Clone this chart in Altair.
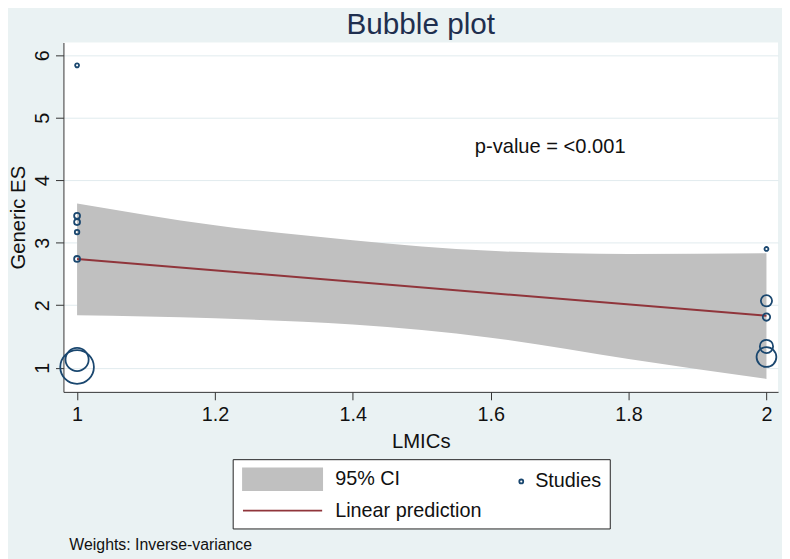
import altair as alt
import pandas as pd

# ---------------- data ----------------
# individual studies (x = LMICs group, y = generic effect size, weight = inverse-variance weight, relative)
study_x = [1, 1, 1, 1, 1, 1, 1, 2, 2, 2, 2, 2]
study_es = [5.84, 3.43, 3.33, 3.17, 2.74, 1.13, 1.01, 2.90, 2.07, 1.81, 1.34, 1.17]
study_weight = [4, 9, 9, 5.3, 9, 137, 289, 4, 32, 14, 45, 100]

# linear prediction
pred_x = [1, 2]
pred_y = [2.74, 1.83]

# 95% confidence band
ci_x = [1, 1.2, 1.4, 1.6, 1.8, 2]
ci_lower = [1.84, 1.79, 1.69, 1.48, 1.14, 0.82]
ci_upper = [3.63, 3.28, 3.04, 2.87, 2.82, 2.83]

x_ticks = [1, 1.2, 1.4, 1.6, 1.8, 2]
y_ticks = [1, 2, 3, 4, 5, 6]
legend_labels = ["95% CI", "Studies", "Linear prediction"]
annotation_text = ["p-value = <0.001"]
note_text = ["Weights: Inverse-variance"]

# ---------------- styling ----------------
FONT = "Liberation Sans"
BG = "#EAF2F3"
GRAY = "#C0C0C0"
MAROON = "#90353B"
NAVY = "#1A476F"
TEXT = "#111111"

# legend symbol paths (unit = 11 px, symbol centre 12 px from entry origin)
RECT_PATH = "M-4.727,-1H2.545V1H-4.727Z"
CIRC_PATH = "M2.29,0A0.18,0.18,0,1,0,2.65,0A0.18,0.18,0,1,0,2.29,0Z"
LINE_PATH = "M-4.727,0H2.545"

studies = pd.DataFrame({"x": study_x, "es": study_es, "weight": study_weight})
pred = pd.DataFrame({"x": pred_x, "pred": pred_y})
ci = pd.DataFrame({"x": ci_x, "lower": ci_lower, "upper": ci_upper})
leg_df = pd.DataFrame({"series": legend_labels})
ann_df = pd.DataFrame({"label": annotation_text})
note_df = pd.DataFrame({"label": note_text})

xscale = alt.Scale(domain=[0.9802, 2.0168], nice=False, zero=False)
yscale = alt.Scale(domain=[0.612, 6.206], nice=False, zero=False)

x_axis = alt.Axis(
    title="LMICs", values=x_ticks, format="~g", grid=False, labelFlush=False,
    tickSize=8, labelPadding=5, titlePadding=7,
)
y_axis = alt.Axis(
    title="Generic ES", values=y_ticks, format="~g", grid=True, gridColor="#E1EBEE", gridWidth=1,
    labelAngle=270, labelAlign="center", labelBaseline="bottom",
    tickSize=8, labelPadding=3, titlePadding=4,
)

X = lambda f: alt.X(f, type="quantitative", scale=xscale, axis=x_axis)
Y = lambda f: alt.Y(f, type="quantitative", scale=yscale, axis=y_axis)

band = alt.Chart(ci).mark_area(color=GRAY, opacity=1, interpolate="monotone").encode(
    x=X("x"), y=Y("lower"), y2="upper"
)

line = alt.Chart(pred).mark_line(color=MAROON, strokeWidth=2).encode(
    x=X("x"), y=Y("pred")
)

points = alt.Chart(studies).mark_point(
    shape="circle", filled=False, color=NAVY, strokeWidth=1.8, opacity=1
).encode(
    x=X("x"), y=Y("es"),
    size=alt.Size("weight:Q", scale=alt.Scale(domain=[0, 289], range=[0, 1156], zero=True), legend=None),
)

ann = alt.Chart(ann_df).mark_text(
    align="left", baseline="alphabetic", font=FONT, fontSize=20.3, color=TEXT
).encode(x=alt.datum(1.577), y=alt.datum(4.433), text="label:N")

note = alt.Chart(note_df).mark_text(
    align="left", baseline="alphabetic", font=FONT, fontSize=16, color=TEXT
).encode(x=alt.value(6), y=alt.value(513), text="label:N")

leg = alt.Legend(
    title="\u00a0", titleOrient="left", titlePadding=42.4, titleFont=FONT, titleFontSize=20,
    titleFontWeight="normal", titleOpacity=0,
    orient="none", legendX=171, legendY=421, columns=2, direction="horizontal",
    columnPadding=0, rowPadding=5, padding=8,
    strokeColor="#222222", fillColor="#FFFFFF", cornerRadius=0,
    symbolSize=484, symbolStrokeWidth=1.8, symbolOpacity=1, symbolOffset=0,
    labelOffset=29.2, labelFont=FONT, labelFontSize=20, labelColor=TEXT, labelLimit=400,
)

legend_layer = alt.Chart(leg_df).mark_point(opacity=1, strokeWidth=1.8, clip=True).encode(
    x=alt.value(-300), y=alt.value(-300),
    fill=alt.Fill("series:N", scale=alt.Scale(domain=legend_labels, range=[GRAY, "transparent", "transparent"]), legend=leg),
    stroke=alt.Stroke("series:N", scale=alt.Scale(domain=legend_labels, range=[GRAY, NAVY, MAROON]), legend=leg),
    shape=alt.Shape("series:N", scale=alt.Scale(domain=legend_labels, range=[RECT_PATH, CIRC_PATH, LINE_PATH]), legend=leg),
)

chart = alt.layer(band, line, points, ann, note, legend_layer).properties(
    width=722, height=353,
    autosize=alt.AutoSizeParams(type="none"),
    padding={"left": 56, "top": 32, "right": 4, "bottom": 166},
    background=BG,
    title=alt.Title(
        "Bubble plot", font=FONT, fontSize=30, fontWeight="normal", color="#1F2F4F",
        anchor="middle", frame="group", baseline="alphabetic", offset=3, dy=24,
    ),
).configure_view(fill="#FFFFFF", stroke=None).configure_axis(
    labelFont=FONT, titleFont=FONT, labelFontSize=20, titleFontSize=20.5,
    titleFontWeight="normal", labelColor=TEXT, titleColor=TEXT,
    domainColor="#333333", tickColor="#333333", domainWidth=1, tickWidth=1,
)

chart.save("out.html", embed_options={"renderer": "svg", "actions": False})
